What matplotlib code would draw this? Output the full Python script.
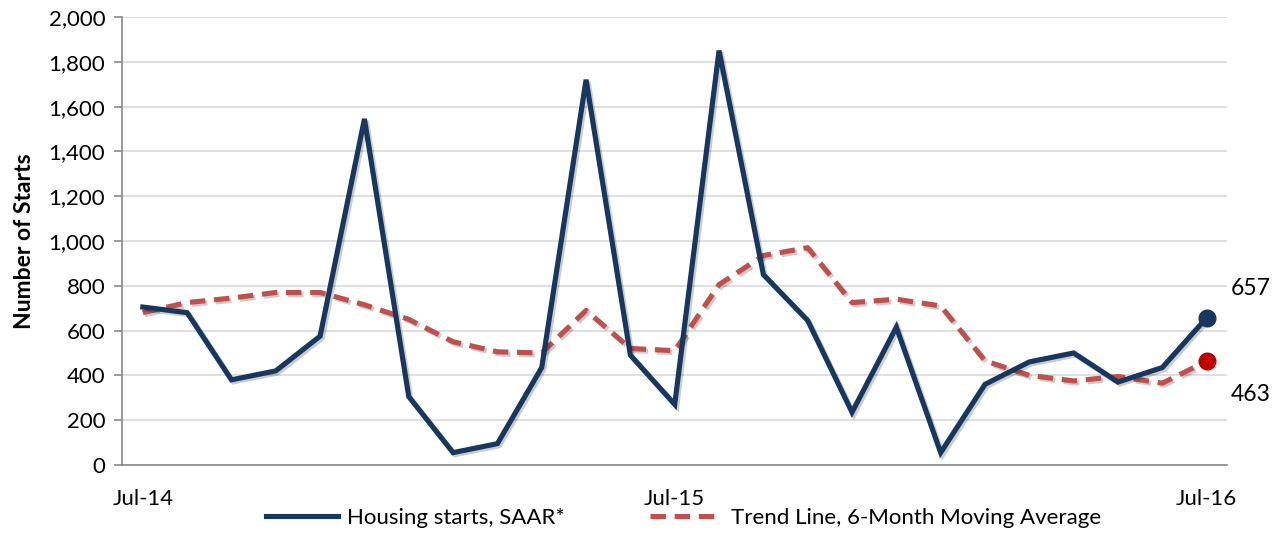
import matplotlib.pyplot as plt
import matplotlib.patheffects as pe
import numpy as np

plt.rcParams['font.family'] = ['Lato', 'DejaVu Sans']

# monthly, Jul-14 .. Jul-16
months = ['Jul-14', 'Aug-14', 'Sep-14', 'Oct-14', 'Nov-14', 'Dec-14',
          'Jan-15', 'Feb-15', 'Mar-15', 'Apr-15', 'May-15', 'Jun-15',
          'Jul-15', 'Aug-15', 'Sep-15', 'Oct-15', 'Nov-15', 'Dec-15',
          'Jan-16', 'Feb-16', 'Mar-16', 'Apr-16', 'May-16', 'Jun-16', 'Jul-16']
starts = [705, 680, 380, 420, 575, 1545, 305, 55, 95, 435, 1720, 490,
          270, 1850, 850, 645, 235, 615, 55, 360, 460, 500, 370, 435, 657]
trend = [680, 725, 745, 770, 770, 715, 650, 550, 505, 500, 690, 520,
         510, 805, 935, 970, 725, 740, 710, 465, 400, 375, 395, 365, 463]
tick_labels = {0: 'Jul-14', 12: 'Jul-15', 24: 'Jul-16'}

navy = '#17375E'
red = '#C0504D'

fig = plt.figure(figsize=(12.88, 5.4), dpi=100)
ax = fig.add_axes([0.0947, 0.139, 0.8583, 0.8295])

x = np.arange(len(months))
shadow = [pe.SimpleLineShadow(offset=(1.5, -1.5), alpha=0.2, shadow_color='k'), pe.Normal()]

l1, = ax.plot(x, starts, color=navy, lw=3.7, solid_joinstyle='miter',
              label='Housing starts, SAAR*', path_effects=shadow, zorder=3)
l2, = ax.plot(x, trend, color=red, lw=3.7, dashes=(3.0, 1.7),
              label='Trend Line, 6-Month Moving Average', path_effects=shadow, zorder=2)

ax.plot(x[-1], starts[-1], 'o', color=navy, ms=12, zorder=4)
ax.plot(x[-1], trend[-1], 'o', color='#C00000', ms=12, zorder=4)
ax.annotate(f'{starts[-1]:,}', (x[-1], starts[-1]), xytext=(24, 29),
            textcoords='offset pixels', fontsize=16.5, va='center', ha='left',
            annotation_clip=False)
ax.annotate(f'{trend[-1]:,}', (x[-1], trend[-1]), xytext=(24, -33),
            textcoords='offset pixels', fontsize=16.5, va='center', ha='left',
            annotation_clip=False)

ax.set_xlim(-0.47, 24.47)
ax.set_ylim(0, 2000)
ax.set_yticks(range(0, 2001, 200))
ax.set_yticklabels([f'{v:,}' for v in range(0, 2001, 200)], fontsize=16)
ax.set_xticks(list(tick_labels.keys()))
ax.set_xticklabels(list(tick_labels.values()), fontsize=16)
ax.tick_params(axis='x', length=0, pad=17)
ax.tick_params(axis='y', length=6, color='#888888', width=1.2, pad=6)
ax.yaxis.grid(True, color='#D9D9D9', lw=1.2)
ax.set_axisbelow(True)
for s in ['top', 'right']:
    ax.spines[s].set_visible(False)
for s in ['left', 'bottom']:
    ax.spines[s].set_color('#888888')
    ax.spines[s].set_linewidth(1.2)

ax.set_ylabel('Number of Starts', fontsize=16.5, fontweight='bold', labelpad=10)

leg = ax.legend(loc='upper center', bbox_to_anchor=(0.508, -0.062), ncol=2, frameon=False,
                fontsize=16, handlelength=3.25, columnspacing=3.8, handletextpad=0.4,
                borderpad=0.2)
for h in leg.get_lines():
    h.set_path_effects([])

fig.savefig('out.png', dpi=100)
